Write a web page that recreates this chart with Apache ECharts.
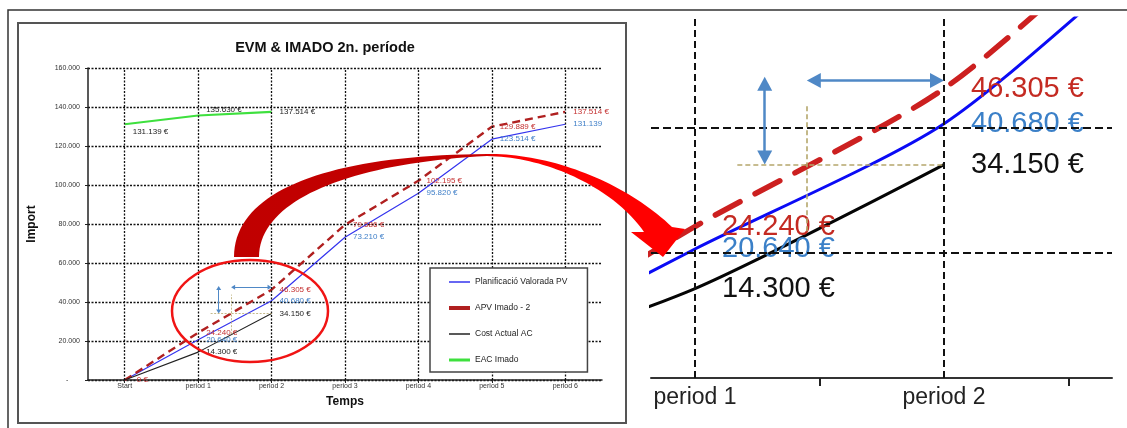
<!DOCTYPE html>
<html>
<head>
<meta charset="utf-8">
<title>EVM &amp; IMADO 2n. període</title>
<script src="https://cdn.jsdelivr.net/npm/echarts@6/dist/echarts.min.js"></script>
<style>
  html, body { margin: 0; padding: 0; background: #fff; }
  #chart { width: 1127px; height: 428px; }
</style>
</head>
<body>
<div id="chart"></div>
<script>
// ---- data -------------------------------------------------------------
const CATEGORIES = ['Start', 'period 1', 'period 2', 'period 3', 'period 4', 'period 5', 'period 6'];
const SERIES_NAMES = ['Planificació Valorada PV', 'APV Imado - 2', 'Cost Actual AC', 'EAC Imado'];
const PV  = [0, 20640, 40680, 73210, 95820, 123514, 131139];
const APV = [0, 24240, 46305, 79586, 102195, 129889, 137514];
const AC  = [0, 14300, 34150, null, null, null, null];
const EAC = [131139, 135630, 137514, null, null, null, null];
const Y_MAX = 160000;
const Y_STEP = 20000;
const DETAIL_GRID_VALUES = [20000, 40000];

// ---- helpers ----------------------------------------------------------
const FONT = "'Liberation Sans', Arial, sans-serif";
const thousands = v => String(v).replace(/\B(?=(\d{3})+(?!\d))/g, '.');
const euro = p => thousands(p.value[1]) + ' €';
const plain = p => thousands(p.value[1]);

// points as [index, value]; only listed indices carry a visible label
function seriesData(values, labelOpts) {
  return values.map((v, i) => {
    if (v == null) return null;
    const o = labelOpts[i];
    return { value: [i, v], label: o ? Object.assign({ show: true }, o) : { show: false } };
  }).filter(Boolean);
}

// the point where APV reaches the period-2 actual cost
const ACT = AC[2];
const CROSS_X = 1 + (ACT - APV[1]) / (APV[2] - APV[1]);
const ARROW_TOP = 48200;
const ARROW_ROW = 47600;
const ARROW_X = 1.28;
const GUIDE_FROM_X = 1.17;
const GUIDE_V = [23500, 43800];

// head: arrow-head length in px; pxX / pxY: pixels per axis unit in that grid
function annotationSeries(grid, small, head, pxX, pxY) {
  const dy = head / 2 / pxY, dx = head / 2 / pxX;
  return [
    {
      type: 'line', xAxisIndex: grid, yAxisIndex: grid, data: [], silent: true, z: 4,
      markLine: {
        silent: true, animation: false,
        symbol: ['triangle', 'triangle'],
        symbolSize: [head + 1, head],
        label: { show: false },
        lineStyle: { color: '#4f88c6', width: small ? 1 : 2.5, type: 'solid' },
        data: [
          [{ coord: [ARROW_X, ACT + dy] }, { coord: [ARROW_X, ARROW_TOP - dy] }],
          [{ coord: [CROSS_X + dx, ARROW_ROW] }, { coord: [2 - dx, ARROW_ROW] }]
        ]
      }
    },
    {
      type: 'line', xAxisIndex: grid, yAxisIndex: grid, data: [], silent: true, z: 4,
      markLine: {
        silent: true, animation: false, symbol: 'none',
        label: { show: false },
        lineStyle: { color: '#b5a76c', width: small ? 0.8 : 1.6, type: small ? [2, 1.5] : [5, 3] },
        data: [
          [{ coord: [GUIDE_FROM_X, ACT] }, { coord: [2, ACT] }],
          [{ coord: [CROSS_X, GUIDE_V[0]] }, { coord: [CROSS_X, GUIDE_V[1]] }]
        ]
      }
    }
  ];
}

function gridLineSeries(grid, key, values, style) {
  return {
    type: 'line', xAxisIndex: grid, yAxisIndex: grid, data: [], silent: true, z: 1,
    markLine: {
      silent: true, animation: false, symbol: 'none',
      label: { show: false },
      lineStyle: style,
      data: values.map(v => ({ [key]: v }))
    }
  };
}

// ---- curved call-out arrow ------------------------------------------
function bezier(p0, p1, p2, p3, n) {
  const out = [];
  for (let i = 0; i <= n; i++) {
    const t = i / n, u = 1 - t;
    out.push([
      u * u * u * p0[0] + 3 * u * u * t * p1[0] + 3 * u * t * t * p2[0] + t * t * t * p3[0],
      u * u * u * p0[1] + 3 * u * u * t * p1[1] + 3 * u * t * t * p2[1] + t * t * t * p3[1]
    ]);
  }
  return out;
}
const outerEdge = bezier([234, 257], [234, 190], [330, 155], [487, 154], 40)
  .concat(bezier([487, 154], [550, 153], [625, 182], [672, 227], 40).slice(1));
const innerEdge = bezier([259, 257], [259, 200], [350, 163], [487, 156], 40)
  .concat(bezier([487, 156], [550, 157], [615, 190], [644, 232], 40).slice(1));
const calloutPoints = outerEdge.concat([[685, 229], [663, 257], [631, 232]], innerEdge.slice().reverse());

// ---- chart ------------------------------------------------------------
const chart = echarts.init(document.getElementById('chart'), null, { renderer: 'canvas' });

const leftLabel = { position: 'right', distance: 8, fontSize: 8, fontFamily: FONT };
const rightLabel = { position: 'right', distance: 27, fontSize: 29, fontFamily: FONT };
const show = {};

const option = {
  animation: false,
  backgroundColor: '#fff',
  textStyle: { fontFamily: FONT },
  grid: [
    { left: 88, top: 68, width: 514, height: 312, containLabel: false },
    { left: 651, top: 18, width: 461, height: 360, containLabel: false }
  ],
  xAxis: [
    {
      gridIndex: 0, type: 'value', min: -0.5, max: 6.5,
      name: 'Temps', nameLocation: 'middle', nameGap: 16,
      nameTextStyle: { fontSize: 12, fontWeight: 'bold', color: '#111' },
      axisLine: { show: true, onZero: false, lineStyle: { color: '#222', width: 1.5 } },
      axisTick: { show: true, length: 3, customValues: [0, 1, 2, 3, 4, 5, 6], lineStyle: { color: '#222' } },
      axisLabel: {
        customValues: [0, 1, 2, 3, 4, 5, 6], fontSize: 7, color: '#333', margin: 3,
        formatter: v => CATEGORIES[Math.round(v)]
      },
      splitLine: { show: false }
    },
    {
      gridIndex: 1, type: 'value', min: 0.8233, max: 2.6747,
      axisLine: { show: true, onZero: false, lineStyle: { color: '#333', width: 2 } },
      axisTick: { show: true, length: 8, customValues: [1.5, 2.5], lineStyle: { color: '#222', width: 2 } },
      axisLabel: {
        customValues: [1, 2], fontSize: 23, color: '#222', margin: 8,
        formatter: v => CATEGORIES[Math.round(v)]
      },
      splitLine: { show: false }
    }
  ],
  yAxis: [
    {
      gridIndex: 0, type: 'value', min: 0, max: Y_MAX, interval: Y_STEP,
      name: 'Import', nameLocation: 'middle', nameGap: 50, nameRotate: 90,
      nameTextStyle: { fontSize: 12, fontWeight: 'bold', color: '#111' },
      axisLine: { show: true, onZero: false, lineStyle: { color: '#222', width: 1.5 } },
      axisTick: { show: true, length: 3, lineStyle: { color: '#222' } },
      axisLabel: {
        fontSize: 7, color: '#333', margin: 8,
        formatter: v => v === 0 ? '-      ' : thousands(v)
      },
      splitLine: { show: true, lineStyle: { color: '#111', width: 1.3, type: [2, 1.5] } }
    },
    {
      gridIndex: 1, type: 'value', min: 0, max: 57600,
      axisLine: { show: false, onZero: false }, axisTick: { show: false }, axisLabel: { show: false },
      splitLine: { show: false }
    }
  ],
  legend: {
    left: 430, top: 268, orient: 'vertical',
    padding: [8, 20, 6, 19], itemGap: 14, itemWidth: 21, itemHeight: 4,
    borderColor: '#444', borderWidth: 1.5, backgroundColor: '#fff',
    textStyle: { fontSize: 8.5, lineHeight: 12, color: '#222', fontFamily: FONT },
    selectedMode: false,
    data: [
      { name: SERIES_NAMES[0], icon: 'path://M0,0h21v1.5h-21z' },
      { name: SERIES_NAMES[1], icon: 'path://M0,0h21v4h-21z' },
      { name: SERIES_NAMES[2], icon: 'path://M0,0h21v1.5h-21z' },
      { name: SERIES_NAMES[3], icon: 'path://M0,0h21v3h-21z' }
    ],
    z: 6
  },
  series: [
    // grid lines
    gridLineSeries(0, 'xAxis', [0, 1, 2, 3, 4, 5, 6], { color: '#111', width: 1.3, type: [2, 1.5] }),
    gridLineSeries(1, 'xAxis', [1, 2], { color: '#111', width: 2, type: [7, 4] }),
    gridLineSeries(1, 'yAxis', DETAIL_GRID_VALUES, { color: '#111', width: 2, type: [8, 4] }),

    // overview chart
    {
      name: SERIES_NAMES[0], type: 'line', xAxisIndex: 0, yAxisIndex: 0, z: 3,
      symbol: 'circle', symbolSize: 0,
      itemStyle: { color: '#3434ee' }, lineStyle: { color: '#3434ee', width: 1.2 },
      label: Object.assign({ color: '#3f7fc8', formatter: euro }, leftLabel),
      data: seriesData(PV, { 1: show, 2: show, 3: show, 4: show, 5: show, 6: { formatter: plain } })
    },
    {
      name: SERIES_NAMES[1], type: 'line', xAxisIndex: 0, yAxisIndex: 0, z: 3,
      symbol: 'circle', symbolSize: 0,
      itemStyle: { color: '#b02020' }, lineStyle: { color: '#b02020', width: 2.4, type: [8, 5] },
      label: Object.assign({ color: '#c43030', formatter: euro }, leftLabel),
      data: seriesData(APV, { 0: { offset: [4, 0] }, 1: show, 2: show, 3: show, 4: show, 5: show, 6: show })
    },
    {
      name: SERIES_NAMES[2], type: 'line', xAxisIndex: 0, yAxisIndex: 0, z: 3,
      symbol: 'circle', symbolSize: 0,
      itemStyle: { color: '#222' }, lineStyle: { color: '#222', width: 1.1 },
      label: Object.assign({ color: '#222', formatter: euro }, leftLabel),
      data: seriesData(AC, { 1: show, 2: show })
    },
    {
      name: SERIES_NAMES[3], type: 'line', xAxisIndex: 0, yAxisIndex: 0, z: 3,
      symbol: 'circle', symbolSize: 0,
      itemStyle: { color: '#3ee03e' }, lineStyle: { color: '#3ee03e', width: 2.2 },
      label: Object.assign({ color: '#222', formatter: euro }, leftLabel),
      data: seriesData(EAC, { 0: { offset: [0, 8] }, 1: { offset: [0, -6] }, 2: show })
    },

    // detail of periods 1-2
    {
      name: SERIES_NAMES[0], type: 'line', xAxisIndex: 1, yAxisIndex: 1, z: 3, smooth: 0.25,
      symbol: 'circle', symbolSize: 0,
      itemStyle: { color: '#0b0bf5' }, lineStyle: { color: '#0b0bf5', width: 3 },
      label: Object.assign({ color: '#3b80c8', formatter: euro }, rightLabel),
      data: seriesData(PV, { 1: show, 2: show })
    },
    {
      name: SERIES_NAMES[1], type: 'line', xAxisIndex: 1, yAxisIndex: 1, z: 3, smooth: 0.25,
      symbol: 'circle', symbolSize: 0,
      itemStyle: { color: '#cc2020' }, lineStyle: { color: '#cc2020', width: 5.5, type: [28, 17], cap: 'round' },
      label: Object.assign({ color: '#c42a22', formatter: euro }, rightLabel),
      data: seriesData(APV, { 1: show, 2: show })
    },
    {
      name: SERIES_NAMES[2], type: 'line', xAxisIndex: 1, yAxisIndex: 1, z: 3, smooth: 0.25,
      symbol: 'circle', symbolSize: 0,
      itemStyle: { color: '#050505' }, lineStyle: { color: '#050505', width: 3 },
      label: Object.assign({ color: '#111', formatter: euro }, rightLabel),
      data: seriesData(AC, { 1: show, 2: show })
    }
  ].concat(
    annotationSeries(0, true, 4, 514 / 7, 312 / Y_MAX),
    annotationSeries(1, false, 14, 461 / (2.6747 - 0.8233), 360 / 57600)
  ),
  graphic: [
    {
      type: 'rect', z: 0, silent: true,
      shape: { x: 8, y: 10, width: 1140, height: 440 },
      style: { fill: null, stroke: '#333', lineWidth: 1.5 }
    },
    {
      type: 'rect', z: 0, silent: true,
      shape: { x: 18, y: 23, width: 608, height: 400 },
      style: { fill: null, stroke: '#555', lineWidth: 2 }
    },
    {
      type: 'text', z: 5, silent: true, x: 325, y: 48,
      style: {
        text: 'EVM & IMADO 2n. període', fontSize: 14.5, fontWeight: 'bold', fontFamily: FONT,
        fill: '#111', align: 'center', verticalAlign: 'middle'
      }
    },
    {
      type: 'ellipse', z: 50, silent: true,
      shape: { cx: 250, cy: 311, rx: 78, ry: 51 },
      style: { fill: null, stroke: '#f01414', lineWidth: 2.5 }
    },
    {
      type: 'polygon', z: 50, silent: true,
      shape: { points: calloutPoints },
      style: {
        fill: {
          type: 'linear', x: 0, y: 0, x2: 1, y2: 0,
          colorStops: [
            { offset: 0, color: '#c00000' },
            { offset: 0.54, color: '#c40000' },
            { offset: 0.6, color: '#ff0000' },
            { offset: 1, color: '#ff0000' }
          ]
        }
      }
    }
  ]
};

chart.setOption(option);
</script>
</body>
</html>
